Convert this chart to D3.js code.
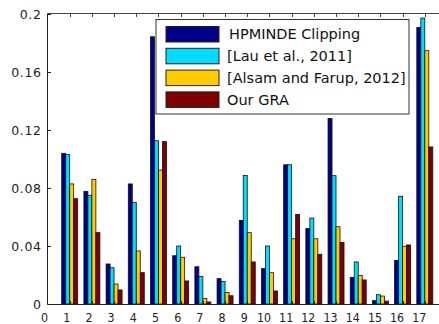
<!DOCTYPE html>
<html><head><meta charset="utf-8">
<script src="https://cdn.jsdelivr.net/npm/d3@7"></script>
<style>body{margin:0;background:#fff}svg{display:block}</style>
</head><body>
<script>
const categories = d3.range(1, 18);
const seriesNames = ["HPMINDE Clipping", "[Lau et al., 2011]", "[Alsam and Farup, 2012]", "Our GRA"];
const seriesColors = ["#000088", "#00DDFF", "#FFCC00", "#7F0000"];
const hpminde = [0.1039, 0.0777, 0.0276, 0.0828, 0.1843, 0.0333, 0.0257, 0.0175, 0.0577, 0.0244, 0.096, 0.052, 0.128, 0.0184, 0.0023, 0.0301, 0.1908];
const lau     = [0.103, 0.075, 0.025, 0.070, 0.1126, 0.040, 0.0189, 0.0156, 0.0887, 0.040, 0.096, 0.0593, 0.0885, 0.029, 0.0064, 0.0743, 0.1972];
const alsam   = [0.0828, 0.086, 0.0138, 0.0366, 0.0924, 0.0322, 0.0039, 0.008, 0.0492, 0.0216, 0.045, 0.045, 0.0533, 0.0198, 0.0055, 0.0398, 0.1747];
const gra     = [0.0726, 0.0492, 0.0097, 0.0216, 0.112, 0.0159, 0.0014, 0.0057, 0.029, 0.009, 0.0618, 0.0343, 0.0425, 0.0166, 0.002, 0.0407, 0.1083];
const yTicks = [0, 0.04, 0.08, 0.12, 0.16, 0.2];
const yTickLabels = ["0", "0.04", "0.08", "0.12", "0.16", "0.2"];
const xTicks = d3.range(0, 18);

const series = [hpminde, lau, alsam, gra];
const W = 439, H = 324;
const svg = d3.select("body").append("svg").attr("width", W).attr("height", H);

const x = d3.scaleLinear().domain([0, 18]).range([47.5, 447]);
const y = d3.scaleLinear().domain([0, 0.2]).range([304, 14]);
const barW = 0.18;

// bars
series.forEach((vals, si) => {
  svg.append("g").selectAll("rect").data(vals).join("rect")
    .attr("x", (d, i) => x(categories[i] + (si - 2) * barW))
    .attr("width", x(barW) - x(0))
    .attr("y", d => y(d))
    .attr("height", d => y(0) - y(d))
    .attr("fill", seriesColors[si])
    .attr("stroke", "#111")
    .attr("stroke-width", 0.8);
});

// frame
const f = svg.append("g").attr("fill", "none").attr("stroke", "#222").attr("stroke-width", 1);
f.append("line").attr("x1", 47.5).attr("x2", 47.5).attr("y1", 13.5).attr("y2", 304.5);
f.append("line").attr("x1", 47.5).attr("x2", 447).attr("y1", 304.5).attr("y2", 304.5);
f.append("line").attr("x1", 47.5).attr("x2", 447).attr("y1", 13.5).attr("y2", 13.5).attr("stroke", "#444");

// y ticks (inward) and labels
const yAxis = svg.append("g");
yAxis.selectAll("line").data(yTicks).join("line")
  .attr("x1", 47.5).attr("x2", 51).attr("y1", d => Math.round(y(d)) + 0.5).attr("y2", d => Math.round(y(d)) + 0.5)
  .attr("stroke", "#222");
yAxis.selectAll("text").data(yTicks).join("text")
  .attr("x", 41.5).attr("y", d => y(d) + 4.5)
  .attr("text-anchor", "end")
  .attr("font-family", "DejaVu Sans, sans-serif").attr("font-size", 12.5)
  .attr("letter-spacing", 0.6)
  .attr("fill", "#222")
  .text((d, i) => yTickLabels[i]);

// x ticks (top, inward) and bottom labels
const xAxis = svg.append("g");
xAxis.selectAll("line.t").data(xTicks.slice(1)).join("line").attr("class", "t")
  .attr("x1", d => Math.round(x(d)) + 0.5).attr("x2", d => Math.round(x(d)) + 0.5)
  .attr("y1", 13.5).attr("y2", 17).attr("stroke", "#444");
xAxis.selectAll("line.b").data(xTicks.slice(1)).join("line").attr("class", "b")
  .attr("x1", d => Math.round(x(d)) + 0.5).attr("x2", d => Math.round(x(d)) + 0.5)
  .attr("y1", 304.5).attr("y2", 301).attr("stroke", "#222");
xAxis.selectAll("text").data(xTicks).join("text")
  .attr("transform", d => `translate(${x(d) - 3 - 2.5 * (String(d).length - 1)},322) scale(0.85,1)`)
  .attr("text-anchor", "middle")
  .attr("font-family", "DejaVu Sans, sans-serif").attr("font-size", 13)
  .attr("fill", "#222")
  .text(d => d);

// legend
const lg = svg.append("g");
lg.append("rect").attr("x", 156).attr("y", 19.5).attr("width", 253).attr("height", 94.5)
  .attr("fill", "#fff").attr("stroke", "#333").attr("stroke-width", 1);
seriesNames.forEach((name, i) => {
  const cy = 34 + i * 21.8;
  lg.append("rect").attr("x", 166).attr("y", cy - 7.5).attr("width", 53).attr("height", 15.5)
    .attr("fill", seriesColors[i]).attr("stroke", "#222").attr("stroke-width", 1);
  lg.append("text").attr("x", i === 0 ? 229 : 227).attr("y", cy + 5.2)
    .attr("font-family", "DejaVu Sans, sans-serif").attr("font-size", 14.5)
    .attr("fill", "#111")
    .text(name);
});
</script>
</body></html>
